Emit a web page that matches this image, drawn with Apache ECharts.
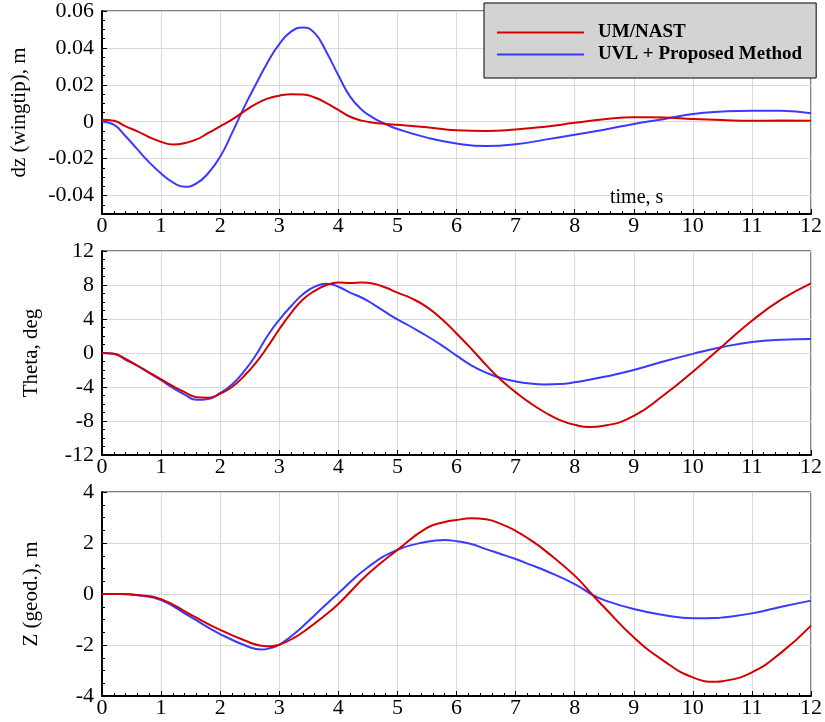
<!DOCTYPE html>
<html>
<head>
<meta charset="utf-8">
<script src="https://cdn.jsdelivr.net/npm/echarts@6/dist/echarts.min.js"></script>
<style>
  html, body { margin: 0; background: #fff; }
  #main { width: 825px; height: 722px; }
</style>
</head>
<body>
<div id="main"></div>
<script>
// time samples, one list per panel
var timeDz = [0, 0.2, 0.4, 0.6, 0.8, 1.0, 1.2, 1.4, 1.6, 1.8, 2.0, 2.2, 2.4, 2.6, 2.8, 3.0, 3.2, 3.4, 3.6, 3.8,
  4.0, 4.2, 4.4, 4.6, 4.8, 5.0, 5.5, 6.0, 6.5, 7.0, 7.5, 8.0, 8.5, 9.0, 9.5, 10.0, 10.5, 11.0, 11.5, 12.0]
var dzNast = [0.0011, 0.0005, -0.0025, -0.0052, -0.0084, -0.0109, -0.0123, -0.0116, -0.0096, -0.0061, -0.0025,
  0.0011, 0.0055, 0.0095, 0.0125, 0.0141, 0.0149, 0.0148, 0.0131, 0.0101, 0.0064, 0.0027, 0.0006, -0.0006, -0.0012,
  -0.0017, -0.003, -0.0046, -0.005, -0.0042, -0.0027, -0.0006, 0.0013, 0.0024, 0.0023, 0.0015, 0.0009, 0.0005,
  0.0006, 0.0005]
var dzUvl = [0, -0.0016, -0.0079, -0.015, -0.022, -0.028, -0.0329, -0.0353, -0.0334, -0.0278, -0.019, -0.0062,
  0.0075, 0.020, 0.032, 0.042, 0.0488, 0.0511, 0.048, 0.0377, 0.0252, 0.0136, 0.0064, 0.002, -0.0013, -0.0039,
  -0.0086, -0.0118, -0.0132, -0.0122, -0.0097, -0.007, -0.0043, -0.0012, 0.0014, 0.0042, 0.0055, 0.006, 0.0059,
  0.0046]

var timeTheta = [0, 0.2, 0.4, 0.6, 0.8, 1.0, 1.2, 1.4, 1.6, 1.8, 2.0, 2.2, 2.4, 2.6, 2.8, 3.0, 3.2, 3.4, 3.6, 3.8,
  4.0, 4.2, 4.4, 4.6, 4.8, 5.0, 5.25, 5.5, 5.75, 6.0, 6.25, 6.5, 6.75, 7.0, 7.25, 7.5, 7.75, 8.0, 8.25, 8.5, 9.0,
  9.5, 10.0, 10.5, 11.0, 11.5, 12.0]
var thetaNast = [0, -0.1, -0.7, -1.5, -2.3, -3.1, -3.9, -4.6, -5.2, -5.25, -4.8, -4.0, -2.75, -1.2, 0.7, 2.8, 4.7,
  6.3, 7.3, 8.0, 8.3, 8.25, 8.3, 8.15, 7.7, 7.1, 6.4, 5.4, 4.0, 2.3, 0.5, -1.4, -3.15, -4.6, -5.9, -7.0, -7.9,
  -8.45, -8.7, -8.55, -7.4, -5.0, -2.2, 0.8, 3.8, 6.3, 8.2]
var thetaUvl = [0, -0.1, -0.8, -1.5, -2.35, -3.2, -4.1, -4.9, -5.5, -5.4, -4.7, -3.7, -2.2, -0.3, 2.0, 3.9, 5.5,
  6.9, 7.8, 8.15, 7.8, 7.1, 6.5, 5.7, 4.8, 3.95, 3.0, 2.0, 0.9, -0.3, -1.45, -2.3, -2.95, -3.35, -3.6, -3.7, -3.65,
  -3.45, -3.15, -2.8, -2.0, -1.0, -0.1, 0.7, 1.3, 1.57, 1.65]

var timeZ = [0, 0.3, 0.6, 1.0, 1.5, 2.0, 2.5, 2.7, 2.85, 3.0, 3.25, 3.5, 3.75, 4.0, 4.5, 5.0, 5.5, 5.8, 6.0, 6.25,
  6.5, 6.75, 7.0, 7.25, 7.5, 8.0, 8.3, 8.5, 9.0, 9.5, 10.0, 10.4, 10.5, 11.0, 11.5, 12.0]
var zNast = [0, 0, -0.04, -0.2, -0.81, -1.41, -1.9, -2.03, -2.05, -1.99, -1.72, -1.33, -0.88, -0.39, 0.78, 1.73,
  2.59, 2.82, 2.9, 2.97, 2.93, 2.75, 2.48, 2.12, 1.7, 0.72, -0.03, -0.52, -1.7, -2.61, -3.27, -3.44, -3.42, -3.07,
  -2.29, -1.24]
var zUvl = [0, 0, -0.05, -0.24, -0.9, -1.57, -2.09, -2.18, -2.12, -1.99, -1.57, -1.05, -0.5, 0.03, 1.05, 1.73,
  2.05, 2.12, 2.07, 1.96, 1.76, 1.57, 1.37, 1.15, 0.92, 0.39, -0.03, -0.24, -0.59, -0.82, -0.95, -0.94, -0.92,
  -0.76, -0.5, -0.26]

var dzTicks = [-0.04, -0.02, 0, 0.02, 0.04, 0.06]
var legendNames = ['UM/NAST', 'UVL + Proposed Method']

var RED = '#d40000'
var BLUE = '#3a3aff'
var FONT = 'Liberation Serif'

function pairs(t, v) {
  return t.map(function(x, i) { return [x, v[i]] })
}

var chart = echarts.init(document.getElementById('main'))

var labelStyle = { color: '#000', fontFamily: FONT, fontSize: 22 }
var gridLine = { show: true, lineStyle: { color: '#d9d9d9', width: 1 } }

function xAxisFor(idx) {
  return {
    type: 'value', gridIndex: idx, min: 0, max: 12, interval: 1,
    axisLine: { onZero: false, lineStyle: { color: '#000', width: 2 } },
    axisTick: { inside: true, length: 5, lineStyle: { color: '#000' } },
    minorTick: { show: true, splitNumber: 5, length: 3, lineStyle: { color: '#000' } },
    splitLine: gridLine,
    axisLabel: Object.assign({ margin: 1 }, labelStyle)
  }
}

function yName(text, gap) {
  return {
    name: text, nameLocation: 'middle', nameGap: gap,
    nameTextStyle: { color: '#000', fontFamily: FONT, fontSize: 21 }
  }
}

var option = {
  animation: false,
  backgroundColor: '#fff',
  title: {
    text: 'time, s', left: 605, top: 183,
    textStyle: { fontFamily: FONT, fontSize: 20, fontWeight: 'normal', color: '#000' }
  },
  legend: {
    data: legendNames,
    orient: 'vertical',
    left: 484, top: 3,
    padding: [20, 14, 14, 13],
    icon: 'rect',
    itemWidth: 87, itemHeight: 2, itemGap: 3,
    backgroundColor: '#d3d3d3', borderColor: '#000', borderWidth: 1,
    textStyle: { fontFamily: FONT, fontSize: 19, fontWeight: 'bold', color: '#000', padding: [0, 0, 0, 9] }
  },
  grid: [
    { left: 102, right: 14, top: 10, height: 204, show: true, borderColor: '#000', borderWidth: 1 },
    { left: 102, right: 14, top: 251, height: 204, show: true, borderColor: '#000', borderWidth: 1 },
    { left: 102, right: 14, top: 492, height: 204, show: true, borderColor: '#000', borderWidth: 1 }
  ],
  xAxis: [xAxisFor(0), xAxisFor(1), xAxisFor(2)],
  yAxis: [
    Object.assign({
      type: 'value', gridIndex: 0, position: 'left', min: -0.05, max: 0.06,
      axisLine: { lineStyle: { color: '#000', width: 2 } },
      axisTick: { inside: true, length: 5, customValues: dzTicks, lineStyle: { color: '#000' } },
      axisLabel: Object.assign({ margin: 8, customValues: dzTicks }, labelStyle),
      splitLine: gridLine
    }, yName('dz (wingtip), m', 72)),
    {
      type: 'value', gridIndex: 0, position: 'left', min: -0.05, max: 0.06, interval: 0.005,
      axisLine: { show: false },
      axisTick: { inside: true, length: 3, lineStyle: { color: '#000' } },
      axisLabel: { show: false },
      splitLine: { show: false }
    },
    Object.assign({
      type: 'value', gridIndex: 1, position: 'left', min: -12, max: 12, interval: 4,
      axisLine: { lineStyle: { color: '#000', width: 2 } },
      axisTick: { inside: true, length: 5, lineStyle: { color: '#000' } },
      minorTick: { show: true, splitNumber: 4, length: 3, lineStyle: { color: '#000' } },
      axisLabel: Object.assign({ margin: 8 }, labelStyle),
      splitLine: gridLine
    }, yName('Theta, deg', 60)),
    Object.assign({
      type: 'value', gridIndex: 2, position: 'left', min: -4, max: 4, interval: 2,
      axisLine: { lineStyle: { color: '#000', width: 2 } },
      axisTick: { inside: true, length: 5, lineStyle: { color: '#000' } },
      minorTick: { show: true, splitNumber: 4, length: 3, lineStyle: { color: '#000' } },
      axisLabel: Object.assign({ margin: 8 }, labelStyle),
      splitLine: gridLine
    }, yName('Z (geod.), m', 60))
  ],
  series: [
    { name: legendNames[1], xAxisIndex: 0, yAxisIndex: 0, data: pairs(timeDz, dzUvl), color: BLUE },
    { name: legendNames[0], xAxisIndex: 0, yAxisIndex: 0, data: pairs(timeDz, dzNast), color: RED },
    { name: legendNames[1], xAxisIndex: 1, yAxisIndex: 2, data: pairs(timeTheta, thetaUvl), color: BLUE },
    { name: legendNames[0], xAxisIndex: 1, yAxisIndex: 2, data: pairs(timeTheta, thetaNast), color: RED },
    { name: legendNames[1], xAxisIndex: 2, yAxisIndex: 3, data: pairs(timeZ, zUvl), color: BLUE },
    { name: legendNames[0], xAxisIndex: 2, yAxisIndex: 3, data: pairs(timeZ, zNast), color: RED }
  ].map(function(s) {
    return Object.assign({
      type: 'line', symbol: 'none', smooth: true,
      lineStyle: { width: 2, color: s.color }
    }, s)
  })
}

chart.setOption(option)
</script>
</body>
</html>
